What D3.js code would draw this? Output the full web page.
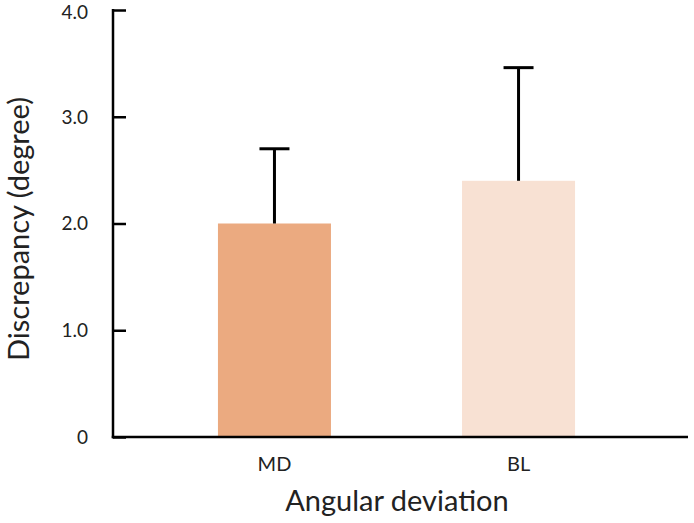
<!DOCTYPE html>
<html><head><meta charset="utf-8">
<script src="https://cdn.jsdelivr.net/npm/d3@7"></script>
<style>body{margin:0;background:#fff}svg{display:block}text{font-family:Lato,"Open Sans",sans-serif;fill:#222}</style>
</head><body><svg id="c" width="694" height="523"></svg>
<script>
const categories = ["MD", "BL"];
const means = [2.0, 2.4];
const errors = [0.7, 1.06];
const colors = ["#EBAA80", "#F8E1D3"];
const yTicks = [0, 1, 2, 3, 4];
const yTickLabels = ["0", "1.0", "2.0", "3.0", "4.0"];
const xTitle = "Angular deviation";
const yTitle = "Discrepancy (degree)";

const svg = d3.select("#c");
const x0 = 113, x1 = 688, y0 = 437, yTop = 10;
const x = d3.scaleBand().domain(categories).range([113, 680]).paddingInner(0.537).paddingOuter(0.43);
const y = d3.scaleLinear().domain([0, 4]).range([y0, yTop]);

// bars
svg.selectAll("rect.bar").data(categories).join("rect")
  .attr("x", d => x(d)).attr("width", x.bandwidth())
  .attr("y", (d,i) => y(means[i])).attr("height", (d,i) => y(0) - y(means[i]))
  .attr("fill", (d,i) => colors[i]);

// error bars
const eg = svg.append("g").attr("stroke", "#000").attr("stroke-width", 3);
categories.forEach((c,i) => {
  const cx = x(c) + x.bandwidth()/2;
  eg.append("line").attr("x1", cx).attr("x2", cx).attr("y1", y(means[i])).attr("y2", y(means[i]+errors[i]));
  eg.append("line").attr("x1", cx-15).attr("x2", cx+15).attr("y1", y(means[i]+errors[i])).attr("y2", y(means[i]+errors[i]));
});

// y axis
const ya = svg.append("g").attr("transform", `translate(${x0},0)`)
  .call(d3.axisRight(y).tickValues(yTicks).tickSize(13).tickFormat(() => ""));
ya.select(".domain").remove();
ya.selectAll("line").attr("stroke", "#000").attr("stroke-width", 2.5);
ya.append("line").attr("x1", 0).attr("x2", 0).attr("y1", yTop - 1).attr("y2", y0 + 1.25).attr("stroke", "#000").attr("stroke-width", 2.5);
svg.append("g").selectAll("text").data(yTicks).join("text")
  .attr("x", 88).attr("y", d => Math.max(y(d), 12.5)).attr("dy", "0.36em").attr("text-anchor", "end")
  .attr("font-size", 19).text((d,i) => yTickLabels[i]);

// x axis
const xa = svg.append("g").attr("transform", `translate(0,${y0})`)
  .call(d3.axisBottom(x).tickSize(0).tickPadding(20));
xa.select(".domain").remove();
xa.selectAll("text").attr("font-size", 20).style("font-family", "Lato,'Open Sans',sans-serif").attr("fill", "#222");
svg.append("line").attr("x1", x0 - 1.25).attr("x2", x1).attr("y1", y0).attr("y2", y0).attr("stroke", "#000").attr("stroke-width", 2.5);

// titles
svg.append("text").attr("x", 397).attr("y", 511).attr("text-anchor", "middle").attr("font-size", 29).text(xTitle);
svg.append("text").attr("transform", "translate(29,229) rotate(-90)").attr("text-anchor", "middle").attr("font-size", 29).text(yTitle);
</script></body></html>
